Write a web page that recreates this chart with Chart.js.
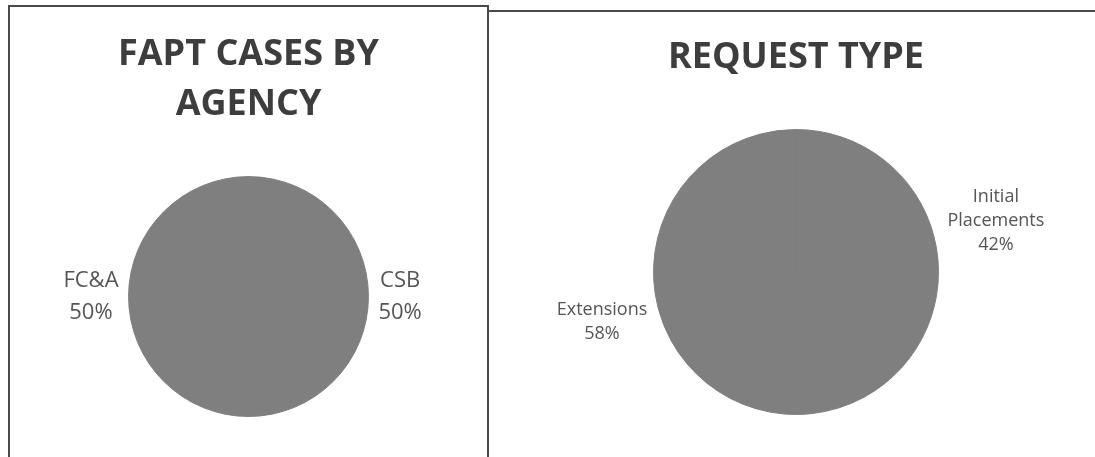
<!DOCTYPE html>
<html>
<head>
<meta charset="utf-8">
<script src="https://cdn.jsdelivr.net/npm/chart.js@4.4.1/dist/chart.umd.min.js"></script>
<style>
  body { margin: 0; background: #fff; width: 1095px; height: 457px; overflow: hidden; position: relative; }
  .box { position: absolute; border: 2px solid #4a4a4a; box-sizing: border-box; background: #fff; }
  #boxLeft { left: 8px; top: 5px; width: 481px; height: 470px; }
  #boxRight { left: 487px; top: 10px; width: 640px; height: 470px; }
  canvas { position: absolute; left: 0; top: 0; }
</style>
</head>
<body>
<div class="box" id="boxLeft"><canvas id="agencyChart" width="477" height="450"></canvas></div>
<div class="box" id="boxRight"><canvas id="requestChart" width="606" height="445"></canvas></div>

<script>
// values (percent of cases)
const agencyLabels = ['CSB', 'FC&A'];
const agencyShares = [50, 50];

const requestLabels = [['Initial', 'Placements'], 'Extensions'];
const requestShares = [42, 58];

const pieGrey = '#7f7f7f';

// labels sitting just outside the pie, centred on each slice's middle angle
const outsideLabels = {
  id: 'outsideLabels',
  afterDatasetsDraw(chart, args, opts) {
    const ctx = chart.ctx;
    const meta = chart.getDatasetMeta(0);
    const values = chart.data.datasets[0].data;
    const total = values.reduce((a, b) => a + b, 0);
    ctx.save();
    ctx.font = opts.size + 'px "Open Sans"';
    ctx.fillStyle = opts.color;
    ctx.textAlign = 'center';
    ctx.textBaseline = 'middle';
    meta.data.forEach((arc, i) => {
      const p = arc.getProps(['x', 'y', 'startAngle', 'endAngle', 'outerRadius'], true);
      const mid = (p.startAngle + p.endAngle) / 2;
      const dx = Math.cos(mid), dy = Math.sin(mid);
      let label = chart.data.labels[i];
      const lines = (Array.isArray(label) ? label : [label]).concat(Math.round(values[i] / total * 100) + '%');
      const w = Math.max(...lines.map(l => ctx.measureText(l).width));
      const h = lines.length * opts.lineHeight;
      const off = opts.gap + w / 2 * Math.abs(dx) + h / 2 * Math.abs(dy);
      const cx = p.x + dx * (p.outerRadius + off);
      const cy = p.y + dy * (p.outerRadius + off);
      lines.forEach((l, k) => {
        ctx.fillText(l, cx, cy - h / 2 + opts.lineHeight * (k + 0.5));
      });
    });
    ctx.restore();
  }
};

const makePie = (id, labels, values, title, pad, titlePad, lbl) => {
  const ctx = document.getElementById(id).getContext('2d');
  return new Chart(ctx, {
    type: 'pie',
    data: {
      labels: labels,
      datasets: [{
        data: values,
        backgroundColor: pieGrey,
        borderColor: pieGrey,
        borderWidth: 1
      }]
    },
    options: {
      responsive: false,
      animation: false,
      devicePixelRatio: 1,
      layout: { padding: pad },
      plugins: {
        legend: { display: false },
        tooltip: { enabled: false },
        title: {
          display: true,
          text: title,
          color: '#3d3d3d',
          font: { family: '"Open Sans"', size: 36, weight: 'bold', lineHeight: 1.39 },
          padding: titlePad
        },
        outsideLabels: lbl
      }
    },
    plugins: [outsideLabels]
  });
};

makePie('agencyChart', agencyLabels, agencyShares, ['FAPT CASES BY', 'AGENCY'],
  { left: 0, right: 0, top: 0, bottom: 40 },
  { top: 23, bottom: 46 },
  { size: 22, lineHeight: 32, gap: 10, color: '#555555' });

makePie('requestChart', requestLabels, requestShares, 'REQUEST TYPE',
  { left: 8, right: 0, top: 0, bottom: 42 },
  { top: 21, bottom: 46 },
  { size: 18, lineHeight: 24, gap: 8, color: '#555555' });
</script>
</body>
</html>
